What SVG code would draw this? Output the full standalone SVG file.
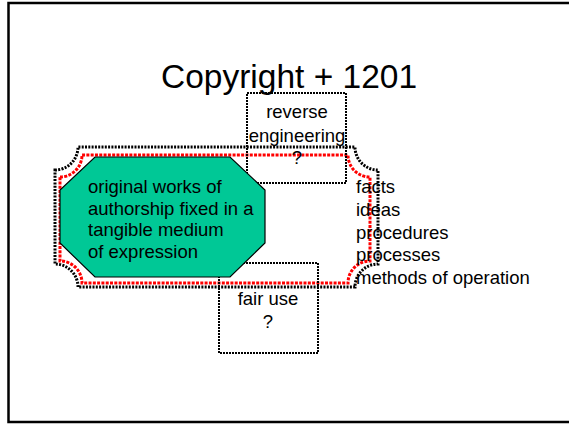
<svg xmlns="http://www.w3.org/2000/svg" width="569" height="424" viewBox="0 0 569 424">
<style>
text{font-family:"Liberation Sans",Arial,sans-serif;fill:#000}
.t{font-size:18.5px}
.black{fill:none;stroke:#000;stroke-width:3;stroke-dasharray:2 1.3}
.red{fill:none;stroke:#f00;stroke-width:3;stroke-dasharray:3 1.3}
.box{fill:none;stroke:#000;stroke-width:2;stroke-dasharray:2 1}
</style>
<rect x="8.5" y="3" width="580" height="419" fill="#fff" stroke="#000" stroke-width="2.5"/>
<text x="289" y="88" font-size="33.5" text-anchor="middle">Copyright + 1201</text>
<g id="plaque-outer"><path class="black" d="M55,170 A23,23 0 0 0 78,147 L355,147 A23,23 0 0 0 378,170 L378,264 A23,23 0 0 0 355,287 L78,287 A23,23 0 0 0 55,264 Z"/></g>
<g id="plaque-inner"><path class="red" d="M60,177 A22,22 0 0 0 82,155 L348,155 A22,22 0 0 0 370,177 L370,261 A22,22 0 0 0 348,283 L82,283 A22,22 0 0 0 60,261 Z"/></g>
<g id="reverse-engineering">
<rect class="box" x="247" y="93" width="99" height="90"/>
<text class="t" x="297" y="118" text-anchor="middle">reverse</text>
<text class="t" x="297" y="142" text-anchor="middle">engineering</text>
<text class="t" x="297" y="164" text-anchor="middle">?</text>
</g>
<g id="fair-use">
<rect class="box" x="219" y="263" width="99" height="90"/>
<text class="t" x="268" y="305" text-anchor="middle">fair use</text>
<text class="t" x="268" y="328" text-anchor="middle">?</text>
</g>
<g id="works">
<polygon points="95,157 230,157 265,190 265,243 230,277 95,277 60,243 60,190" fill="#00C896" stroke="#000" stroke-width="1.2"/>
<text class="t" x="88" y="193">original works of</text>
<text class="t" x="88" y="214.5">authorship fixed in a</text>
<text class="t" x="88" y="236">tangible medium</text>
<text class="t" x="88" y="257.5">of expression</text>
</g>
<g id="list">
<text class="t" x="356" y="193">facts</text>
<text class="t" x="356" y="216">ideas</text>
<text class="t" x="356" y="239">procedures</text>
<text class="t" x="356" y="261">processes</text>
<text class="t" x="356" y="284">methods of operation</text>
</g>
<g id="connectors"/>
</svg>
